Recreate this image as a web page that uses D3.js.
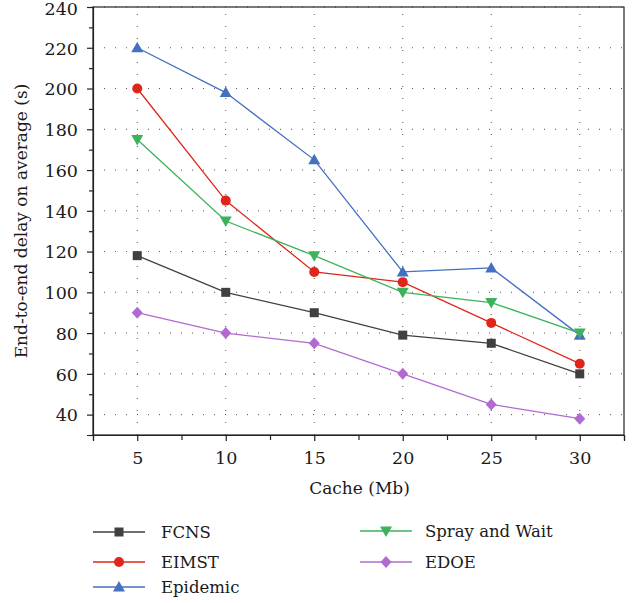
<!DOCTYPE html>
<html><head><meta charset="utf-8">
<script src="https://cdn.jsdelivr.net/npm/d3@7"></script>
<style>body{margin:0;background:#fff}svg{display:block}</style>
</head><body>
<script>
const xValues = [5, 10, 15, 20, 25, 30];
const fcns = [118, 100, 90, 79, 75, 60];
const eimst = [200, 145, 110, 105, 85, 65];
const epidemic = [220, 198, 165, 110, 112, 79];
const sprayWait = [175, 135, 118, 100, 95, 80];
const edoe = [90, 80, 75, 60, 45, 38];
const yTicks = [40, 60, 80, 100, 120, 140, 160, 180, 200, 220, 240];
const seriesNames = ["FCNS", "EIMST", "Epidemic", "Spray and Wait", "EDOE"];

const series = [
  {name: seriesNames[0], values: fcns, color: "#404040", shape: "square"},
  {name: seriesNames[1], values: eimst, color: "#e0261b", shape: "circle"},
  {name: seriesNames[2], values: epidemic, color: "#4470c0", shape: "up"},
  {name: seriesNames[3], values: sprayWait, color: "#3cb35a", shape: "down"},
  {name: seriesNames[4], values: edoe, color: "#b06ad0", shape: "diamond"}
];

const FONT = "'DejaVu Serif', serif";
const W = 637, H = 603;
const L = 93, R = 624, T = 7, B = 435;
const svg = d3.select("body").append("svg").attr("width", W).attr("height", H)
  .style("font-family", FONT);
const x = d3.scaleLinear().domain([2.5, 32.5]).range([L, R]);
const y = d3.scaleLinear().domain([30, 240]).range([B, T]);

// grid
const g = svg.append("g");
g.selectAll(".vg").data(xValues).enter().append("line")
  .attr("x1", d => x(d)).attr("x2", d => x(d)).attr("y1", B).attr("y2", T)
  .attr("stroke", "#555").attr("stroke-width", 1).attr("stroke-dasharray", "1,11");
g.selectAll(".hg").data(yTicks).enter().append("line")
  .attr("x1", L).attr("x2", R).attr("y1", d => y(d)).attr("y2", d => y(d))
  .attr("stroke", "#555").attr("stroke-width", 1).attr("stroke-dasharray", "1,10");

// frame
svg.append("rect").attr("x", L).attr("y", T).attr("width", R - L).attr("height", B - T)
  .attr("fill", "none").attr("stroke", "#222").attr("stroke-width", 1.2);

// axes
const xAxis = d3.axisBottom(x).tickValues(d3.range(2.5, 33, 2.5))
  .tickFormat(d => xValues.includes(d) ? d : "").tickSizeOuter(0)
  .tickSize(6).tickPadding(11);
const xa = svg.append("g").attr("transform", `translate(0,${B})`).call(xAxis);
xa.selectAll(".tick line").attr("y2", d => xValues.includes(d) ? 6 : 5);
const yAxis = d3.axisLeft(y).tickValues(d3.range(30, 241, 10))
  .tickFormat(d => yTicks.includes(d) ? d : "").tickSizeOuter(0).tickSize(6).tickPadding(9);
const ya = svg.append("g").attr("transform", `translate(${L},0)`).call(yAxis);
ya.selectAll(".tick line").attr("x2", d => yTicks.includes(d) ? -6 : -4);
[xa, ya].forEach(a => {
  a.attr("font-family", null).attr("font-size", 17.5);
  a.select(".domain").attr("stroke", "#222").attr("stroke-width", 1.2);
  a.selectAll(".tick text").attr("fill", "#1a1a1a").style("font-family", FONT);
  a.selectAll(".tick line").attr("stroke", "#222").attr("stroke-width", 1.2);
});
ya.selectAll(".tick text").attr("dy", d => d === 240 ? "0.42em" : "0.36em");

svg.append("text").attr("x", (L + R) / 2 + 1).attr("y", 494).attr("text-anchor", "middle")
  .attr("font-size", 17).attr("fill", "#1a1a1a").text("Cache (Mb)");
svg.append("text").attr("transform", `translate(27,${(T + B) / 2}) rotate(-90)`).attr("text-anchor", "middle")
  .attr("font-size", 17).attr("fill", "#1a1a1a").text("End-to-end delay on average (s)");

function marker(sel, shape, color) {
  if (shape === "circle") sel.append("circle").attr("r", 5).attr("fill", color);
  else if (shape === "square") sel.append("rect").attr("x", -4.5).attr("y", -4.5).attr("width", 9).attr("height", 9).attr("fill", color);
  else if (shape === "up") sel.append("path").attr("d", "M0,-6L6,4.5L-6,4.5Z").attr("fill", color);
  else if (shape === "down") sel.append("path").attr("d", "M0,6L6,-4.5L-6,-4.5Z").attr("fill", color);
  else sel.append("path").attr("d", "M0,-6L5.5,0L0,6L-5.5,0Z").attr("fill", color);
}

const line = d3.line().x((d, i) => x(xValues[i])).y(d => y(d));
series.forEach(s => {
  svg.append("path").datum(s.values).attr("d", line).attr("fill", "none")
    .attr("stroke", s.color).attr("stroke-width", 1.3);
  s.values.forEach((v, i) => {
    const m = svg.append("g").attr("transform", `translate(${x(xValues[i])},${y(v)})`);
    marker(m, s.shape, s.color);
  });
});

// legend
const legPos = [[93, 532], [93, 562], [93, 587], [360, 531], [360, 562]];
series.forEach((s, i) => {
  const [lx, ly] = legPos[i];
  const lg = svg.append("g").attr("transform", `translate(${lx},${ly})`);
  lg.append("line").attr("x1", 0).attr("x2", 52).attr("stroke", s.color).attr("stroke-width", 1.3);
  const m = lg.append("g").attr("transform", "translate(26,0)");
  marker(m, s.shape, s.color);
  lg.append("text").attr("x", i < 3 ? 68 : 65).attr("y", 6).attr("font-size", 16.5).attr("fill", "#1a1a1a").text(s.name);
});
</script>
</body></html>
